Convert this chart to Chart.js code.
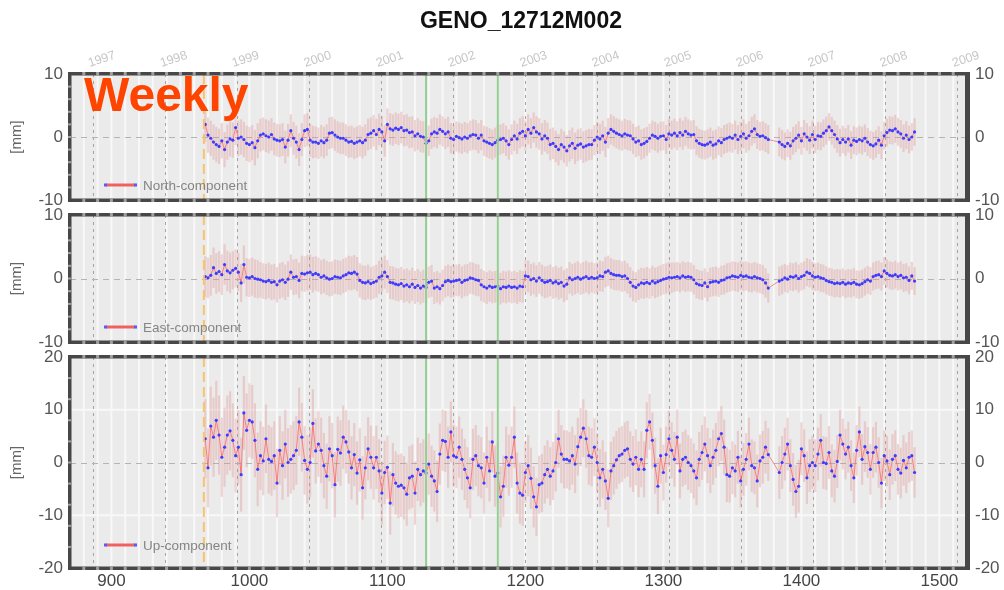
<!DOCTYPE html>
<html>
<head>
<meta charset="utf-8">
<title>GENO_12712M002</title>
<script src="https://cdn.jsdelivr.net/npm/chart.js@4.4.1/dist/chart.umd.min.js"></script>
<style>
  body { margin: 0; background: #fff; }
  #wrap { position: relative; width: 1004px; height: 590px; overflow: hidden;
          font-family: "Liberation Sans", Arial, Helvetica, sans-serif; }
  #wrap canvas { position: absolute; left: 0; top: 0; }
  #title { position: absolute; left: 371px; width: 300px; top: 9px; text-align: center;
           font-weight: bold; font-size: 23px; line-height: 23px; color: #111; }
  #weekly { position: absolute; left: 84px; top: 71px; font-weight: bold;
            font-size: 48px; line-height: 48px; color: #ff4400; }
</style>
</head>
<body>
<div id="wrap">
  <canvas id="north" width="1004" height="590"></canvas>
  <canvas id="east" width="1004" height="590"></canvas>
  <canvas id="up" width="1004" height="590"></canvas>
  <div id="title">GENO_12712M002</div>
  <div id="weekly">Weekly</div>
</div>
<script>
const FONT = '"Liberation Sans", Arial, Helvetica, sans-serif';

// GPS weeks, one solution every second week
const FIRST_WEEK = 968;
const LAST_WEEK = 1482;
const WEEK_STEP = 2;
const X_MIN = 870;
const X_MAX = 1520;
const X_TICKS = [900, 1000, 1100, 1200, 1300, 1400, 1500];

// year boundaries in GPS weeks (Jan 1st)
const YEAR_LABELS = ['1997', '1998', '1999', '2000', '2001', '2002', '2003', '2004', '2005', '2006', '2007', '2008', '2009'];
const YEAR_WEEKS = [886.4, 938.6, 990.7, 1042.9, 1095.1, 1147.3, 1199.4, 1251.6, 1303.9, 1356.0, 1408.1, 1460.3, 1512.6];

const START_WEEK = 967;            // first solution of the station
const EVENT_WEEKS = [1128, 1180];  // equipment changes

// residuals in mm (null = no solution)
const NORTH = [
  2.0, 0.3, -0.2, -0.8, -1.2, -1.5, -0.6, -2.0, -0.8, -0.3,
  -0.5, 1.5, -0.2, 0.0, -0.4, -1.0, -1.2, -0.9, -1.7, -0.6,
  0.3, 0.5, 0.2, 0.0, 0.4, -0.3, -0.5, -0.6, -0.4, -1.6,
  -0.5, 1.0, -0.2, -0.8, -2.0, -0.4, 1.0, 1.2, -0.5, -0.8,
  -0.8, -1.0, -0.6, -0.9, -0.5, 0.6, 0.7, 0.3, 0.0, -0.2,
  -0.2, -0.5, -0.8, -0.7, -1.0, -0.8, -0.6, -0.9, -0.5, 0.4,
  0.6, 1.0, 0.4, 1.2, 0.8, -0.6, 2.0, 1.3, 1.1, 1.4,
  1.2, 1.5, 1.0, 1.1, 0.7, 0.8, 0.2, 0.5, 0.1, 0.0,
  -1.0, -0.6, 0.5, 0.8, 0.6, 1.2, 0.9, 0.5, 0.8, -0.2,
  -0.4, 0.1, -0.1, -0.3, 0.0, -0.2, 0.2, 0.4, 0.3, -0.2,
  0.3, -0.6, -0.8, -1.0, -1.2, -0.9, -0.5, -0.4, -0.2, -0.6,
  -1.2, -0.4, 0.2, -0.3, 0.6, 0.9, 0.2, 1.2, 0.6, 1.5,
  0.8, 0.5, -0.3, 0.2, -0.2, -1.2, -1.0, -1.5, -2.0, -1.2,
  -1.6, -2.2, -1.4, -1.0, -1.8, -1.3, -1.1, -1.6, -1.4, -1.2,
  -1.2, -0.5, 0.0, -0.3, 0.2, -0.8, 0.6, 1.2, 0.9, 0.6,
  0.4, 0.2, 0.5, 0.3, 0.2, -0.3, -0.8, -0.6, -1.2, -1.0,
  -0.7, -0.2, 0.3, 0.1, -0.2, 0.1, 0.2, -0.4, 0.5, 0.3,
  0.6, 0.2, 0.7, 0.3, 0.9, 0.5, 0.3, 0.4, -0.6, -1.0,
  -1.2, -1.3, -1.1, -0.8, -1.3, -1.1, -0.6, -0.9, -0.4, -0.2,
  0.0, -0.2, 0.3, -0.4, 0.1, 0.5, -0.2, 0.2, 0.9, 1.3,
  0.4, 0.1, 0.2, -0.1, -0.4, null, null, null, -0.8, -1.2,
  -1.5, -1.0, -1.4, -0.6, -0.2, 0.3, -0.6, 0.5, 0.0, -0.5,
  0.4, -0.4, 0.2, 0.1, 0.6, 1.0, 1.6, 1.0, 0.4, -0.3,
  -0.9, -0.4, -0.8, -0.3, -1.3, -0.5, -0.7, -0.4, -0.6, -0.2,
  -0.8, -1.2, -1.4, -1.1, -0.5, -1.3, 0.2, 0.7, 1.1, 1.0,
  1.3, 0.8, 0.5, -0.2, 0.3, -0.4, 0.0, 0.8
];

const EAST = [
  0.3, 0.1, 0.5, 1.7, 0.8, 1.1, 0.6, 2.2, 1.2, 0.9,
  1.3, 1.6, 1.0, -0.7, 2.2, 0.2, 0.1, 0.3, 0.0, -0.1,
  -0.2, -0.4, -0.5, -0.3, -0.6, -0.5, -1.0, -0.4, -0.2, -0.6,
  -0.1, 1.0, 0.2, 0.3, -0.3, 0.8, 0.7, 0.9, 1.0, 0.6,
  0.8, 0.6, 0.2, 0.4, 0.1, -0.1, 0.0, 0.3, 0.2, 0.1,
  0.4, 0.6, 0.9, 0.8, 1.0, 0.7, -0.3, -0.6, -0.7, -0.5,
  -0.8, -0.6, -0.4, 0.2, 0.4, 1.0, 0.3, -0.6, -0.7, -0.9,
  -1.0, -0.8, -1.2, -1.0, -1.3, -0.9, -1.4, -1.1, -1.5, -1.2,
  -1.4, -0.6, -0.4, -1.5, -1.3, -1.6, -1.1, -0.5, -0.3, -0.5,
  -0.4, -0.3, -0.2, -0.6, -0.3, -0.2, 0.1, 0.0, -0.2, -0.3,
  -1.0, -1.3, -1.5, -1.2, -1.4, -1.3, -1.2, -1.6, -1.3, -1.4,
  -1.2, -1.4, -1.3, -1.5, -1.2, -1.3, 0.4, 0.3, -0.2, 0.0,
  -0.4, 0.1, -0.3, -0.6, -0.5, -0.3, -0.7, -0.5, -0.8, -0.6,
  -1.2, -0.9, 0.1, -0.2, 0.0, 0.2, -0.1, 0.1, 0.3, 0.0,
  0.2, 0.0, 0.1, 0.4, 0.3, 1.0, 1.2, 0.8, 0.6, 0.5,
  0.5, 0.3, 0.4, 0.0, -0.6, -1.2, -1.4, -1.0, -0.7, -0.8,
  -0.6, -0.8, -0.4, -0.7, -0.5, -0.3, -0.1, 0.0, 0.2, 0.1,
  0.2, 0.3, 0.1, 0.4, 0.2, 0.3, 0.2, -0.2, -0.8, -1.0,
  -1.1, -0.7, -1.3, -0.6, -0.5, -0.4, -0.6, -0.3, -0.2, 0.1,
  0.2, 0.4, 0.3, 0.2, 0.5, 0.3, 0.4, 0.2, 0.1, 0.3,
  0.1, 0.0, -0.2, -0.7, -1.5, null, null, null, -0.4, -0.2,
  0.1, -0.1, 0.3, 0.2, 0.4, 0.0, 0.3, 0.5, 1.0, 0.8,
  0.4, 0.2, 0.3, 0.1, 0.0, -0.3, -0.5, -0.6, -0.8, -0.7,
  -0.8, -0.6, -0.9, -0.7, -0.8, -0.6, -0.9, -1.0, -0.8, -0.5,
  -0.2, -0.4, 0.3, 0.5, 0.6, 0.3, 1.2, 0.8, 0.5, 0.4,
  0.6, 0.3, 0.5, 0.1, 0.2, -0.3, 0.4, -0.4
];

const UP = [
  4.5, -1.0, 6.9, 4.8, 8.0, 5.2, 1.0, 2.9, 5.2, 6.0,
  4.2, 1.3, 2.9, -2.3, 9.4, 6.1, 8.0, 7.7, 4.2, -1.3,
  1.3, 0.3, 4.5, 0.6, 0.2, 1.3, -3.9, 2.3, -0.6, 3.5,
  0.0, 0.6, 1.3, 2.3, 7.7, 4.8, 0.4, -1.3, 0.0, 7.4,
  2.2, 3.5, 2.3, -0.6, -2.6, 2.6, 1.3, -4.2, 2.5, 1.8,
  4.8, 3.9, 2.0, -1.0, 1.5, -2.0, 0.5, -4.8, -1.0, 2.6,
  1.0, -1.0, 1.0, -1.6, -5.8, -1.9, -0.9, -7.7, -2.3, -3.9,
  -4.5, -4.3, -4.8, -6.0, -2.9, -2.6, -5.8, -1.3, -2.3, -1.6,
  -2.0, -0.3, -2.6, -3.5, -5.5, 1.6, 4.2, 4.0, 1.0, 5.8,
  1.3, 1.0, 2.9, 0.6, -1.3, -2.9, -4.8, 0.6, 1.3, -0.6,
  -1.0, -3.9, 1.0, -1.6, 3.9, -2.6, -2.0, -6.5, -4.5, 1.0,
  -0.5, 1.0, 4.8, -3.9, -5.8, -6.2, -1.9, -0.6, -3.0, -6.5,
  -8.4, -4.2, -3.9, -2.3, -1.3, -2.6, -1.6, 0.0, 4.5, 1.6,
  0.6, 0.6, 0.3, 1.3, -0.3, 3.0, 4.8, 6.5, 4.5, 1.3,
  1.0, 2.9, 0.0, -2.9, -1.3, -3.5, -6.8, -1.6, -0.6, 0.5,
  1.3, 1.6, 2.3, 2.6, 0.6, -0.3, 1.0, -1.3, 0.6, -1.3,
  6.1, 7.7, 4.2, -0.6, -4.5, 1.3, -1.9, 1.5, 4.5, 2.3,
  0.6, 4.8, -1.6, 0.6, 1.0, 0.0, -0.6, -1.6, -2.9, 0.6,
  1.9, 3.5, 1.3, -0.6, 1.0, 2.3, 4.5, 5.5, 2.9, -2.3,
  -2.6, -1.0, -1.6, 1.0, -3.5, -1.3, 0.6, 3.5, -0.6, -1.0,
  -3.5, 0.3, 1.0, 2.9, 1.5, null, null, null, -1.9, 0.0,
  1.6, 3.5, -0.6, -3.2, -5.5, -4.5, 2.6, 1.3, -2.9, -0.6,
  0.0, -0.6, 1.6, 4.2, 0.0, -0.2, 1.9, -1.6, -2.6, 0.2,
  5.2, 3.5, 1.6, 2.9, -0.6, -2.9, 2.3, 5.8, 0.6, 3.0,
  1.9, -1.3, 1.9, 2.9, 0.0, -3.9, 1.3, 0.3, -2.3, 0.6,
  1.3, -1.3, -2.0, 0.4, -1.0, 1.0, 1.3, -1.9
];

// formal errors (mm), one value per block of ten solutions
const NORTH_SIGMA = [2.8, 2.8, 2.6, 2.6, 2.5, 2.5, 2.5, 2.5, 2.4, 2.4, 2.4, 2.4, 2.5, 2.5, 2.4, 2.4, 2.3, 2.3, 2.3, 2.3, 2.3, 2.2, 2.2, 2.2, 2.2, 2.2];
const EAST_SIGMA = [3.2, 3.0, 2.8, 2.8, 2.7, 2.7, 2.6, 2.6, 2.5, 2.5, 2.5, 2.5, 2.5, 2.5, 2.4, 2.4, 2.4, 2.3, 2.3, 2.3, 2.3, 2.2, 2.2, 2.2, 2.2, 2.2];
const UP_SIGMA = [7.5, 7.0, 6.5, 6.5, 6.2, 6.0, 6.0, 6.0, 5.8, 5.8, 5.8, 5.8, 5.5, 5.5, 5.5, 5.3, 5.3, 5.2, 5.2, 5.0, 5.0, 5.0, 5.0, 4.8, 4.8, 4.8];

const WEEKS = [];
for (let w = FIRST_WEEK; w <= LAST_WEEK; w += WEEK_STEP) WEEKS.push(w);

const panels = [
  { id: 'north', label: 'North-component', values: NORTH, sigma: NORTH_SIGMA,
    min: -10, max: 10, step: 10, top: 74, bottom: 200, notch: 2, legendY: 185, years: true },
  { id: 'east', label: 'East-component', values: EAST, sigma: EAST_SIGMA,
    min: -10, max: 10, step: 10, top: 215, bottom: 342, notch: 2, legendY: 327 },
  { id: 'up', label: 'Up-component', values: UP, sigma: UP_SIGMA,
    min: -20, max: 20, step: 10, top: 357, bottom: 568, notch: 4, legendY: 545, showX: true, whiteRows: [-10, 10] }
];

function vline(ctx, x, y0, y1) {
  ctx.beginPath(); ctx.moveTo(x, y0); ctx.lineTo(x, y1); ctx.stroke();
}
function hline(ctx, y, x0, x1) {
  ctx.beginPath(); ctx.moveTo(x0, y); ctx.lineTo(x1, y); ctx.stroke();
}

function panelPlugin(p) {
  return {
    id: 'panel_' + p.id,
    beforeDraw(chart) {
      const { ctx, chartArea: a, scales: { x, y } } = chart;
      ctx.save();
      ctx.fillStyle = '#ebebeb';
      ctx.fillRect(a.left, a.top, a.width, a.height);
      // light columns every ten weeks
      ctx.strokeStyle = '#f8f8f8';
      ctx.lineWidth = 2;
      for (let w = X_MIN + 10; w < X_MAX; w += 10) vline(ctx, x.getPixelForValue(w), a.top, a.bottom);
      (p.whiteRows || []).forEach(v => hline(ctx, y.getPixelForValue(v), a.left, a.right));
      // year boundaries
      ctx.strokeStyle = '#a4a4a4';
      ctx.lineWidth = 1;
      ctx.setLineDash([3, 4]);
      YEAR_WEEKS.forEach(w => vline(ctx, Math.round(x.getPixelForValue(w)) + 0.5, a.top, a.bottom));
      // zero line
      ctx.strokeStyle = '#b4b4b4';
      ctx.setLineDash([6, 5]);
      hline(ctx, Math.round(y.getPixelForValue(0)) + 0.5, a.left, a.right);
      ctx.restore();
    },
    beforeDatasetsDraw(chart) {
      const { ctx, chartArea: a, scales: { x, y } } = chart;
      ctx.save();
      ctx.beginPath();
      ctx.rect(a.left, a.top, a.width, a.height);
      ctx.clip();
      ctx.strokeStyle = 'rgba(222, 140, 140, 0.34)';
      ctx.lineWidth = 2.2;
      p.values.forEach((v, i) => {
        if (v === null) return;
        const s = p.sigma[Math.floor(i / 10)];
        vline(ctx, x.getPixelForValue(WEEKS[i]), y.getPixelForValue(v - s), y.getPixelForValue(v + s));
      });
      ctx.restore();
    },
    afterDatasetsDraw(chart) {
      const { ctx, chartArea: a, scales: { x, y } } = chart;
      ctx.save();
      // station events
      ctx.strokeStyle = '#92d092';
      ctx.lineWidth = 2;
      EVENT_WEEKS.forEach(w => vline(ctx, x.getPixelForValue(w), a.top, a.bottom));
      ctx.strokeStyle = '#f6c46c';
      ctx.setLineDash([10, 5]);
      vline(ctx, x.getPixelForValue(START_WEEK), a.top, a.bottom);
      ctx.setLineDash([]);

      // frame with tick notches
      ctx.fillStyle = '#474747';
      ctx.fillRect(a.left - 2, a.top - 2, a.width + 4, 3.5);
      ctx.fillRect(a.left - 2, a.bottom - 1.5, a.width + 4, 3.5);
      ctx.fillRect(a.left - 2, a.top - 2, 3.5, a.height + 4);
      ctx.fillRect(a.right - 2, a.top - 2, 5, a.height + 4);
      ctx.fillStyle = '#a0a0a0';
      for (let w = X_MIN + 10; w < X_MAX; w += 10) {
        const px = x.getPixelForValue(w);
        ctx.fillRect(px - 1.5, a.top - 2, 3, 3.5);
        ctx.fillRect(px - 1.5, a.bottom - 1.5, 3, 3.5);
      }
      for (let v = p.min + p.notch; v < p.max; v += p.notch) {
        ctx.fillRect(a.left - 2, y.getPixelForValue(v) - 1, 3.5, 2);
      }

      // legend
      const ly = p.legendY;
      ctx.strokeStyle = '#f06262';
      ctx.lineWidth = 3;
      hline(ctx, ly, 106, 135);
      ctx.fillStyle = '#5a5aff';
      ctx.fillRect(104, ly - 1.5, 3, 3);
      ctx.fillRect(134, ly - 1.5, 3, 3);
      ctx.fillStyle = '#858585';
      ctx.font = '13.5px ' + FONT;
      ctx.textBaseline = 'middle';
      ctx.fillText(p.label, 143, ly + 1);
      ctx.restore();
    },
    afterDraw(chart) {
      if (!p.years) return;
      const { ctx, scales: { x } } = chart;
      ctx.save();
      ctx.fillStyle = '#c6c6c6';
      ctx.font = '12.5px ' + FONT;
      ctx.textBaseline = 'alphabetic';
      YEAR_WEEKS.forEach((w, i) => {
        ctx.save();
        ctx.translate(x.getPixelForValue(w) - 3, 67);
        ctx.rotate(-0.32);
        ctx.fillText(YEAR_LABELS[i], 0, 0);
        ctx.restore();
      });
      ctx.restore();
    }
  };
}

panels.forEach(p => {
  const points = WEEKS.map((w, i) => ({ x: w, y: p.values[i] }));
  const tickFont = { size: 17, family: FONT };
  new Chart(document.getElementById(p.id), {
    type: 'line',
    data: {
      datasets: [{
        data: points,
        borderColor: 'rgba(255, 70, 70, 0.6)',
        borderWidth: 1,
        pointRadius: 1.6,
        pointBackgroundColor: '#3c3cff',
        pointBorderWidth: 0,
        spanGaps: true,
        tension: 0
      }]
    },
    options: {
      responsive: false,
      animation: false,
      devicePixelRatio: 1,
      events: [],
      layout: { padding: { top: p.top, bottom: p.showX ? 0 : 590 - p.bottom, left: 0, right: 0 } },
      plugins: { legend: { display: false }, tooltip: { enabled: false } },
      scales: {
        x: {
          type: 'linear', min: X_MIN, max: X_MAX, display: !!p.showX,
          grid: { display: false, drawTicks: false }, border: { display: false },
          afterBuildTicks: s => { s.ticks = X_TICKS.map(v => ({ value: v })); },
          afterFit: s => { if (p.showX) s.height = 590 - p.bottom; },
          ticks: { font: tickFont, color: '#444', padding: 3, maxRotation: 0, autoSkip: false, callback: v => String(v) }
        },
        y: {
          position: 'left', min: p.min, max: p.max,
          grid: { display: false, drawTicks: false }, border: { display: false },
          afterFit: s => { s.width = 70; },
          ticks: { stepSize: p.step, font: tickFont, color: '#555', padding: 7, callback: v => String(v) },
          title: { display: true, text: '[mm]', font: { size: 15, family: FONT }, color: '#666', padding: { top: 8, bottom: 0 } }
        },
        y2: {
          position: 'right', min: p.min, max: p.max,
          grid: { display: false, drawTicks: false }, border: { display: false },
          afterFit: s => { s.width = 37; },
          ticks: { stepSize: p.step, font: tickFont, color: '#555', padding: 8, callback: v => String(v) }
        }
      }
    },
    plugins: [panelPlugin(p)]
  });
});
</script>
</body>
</html>
